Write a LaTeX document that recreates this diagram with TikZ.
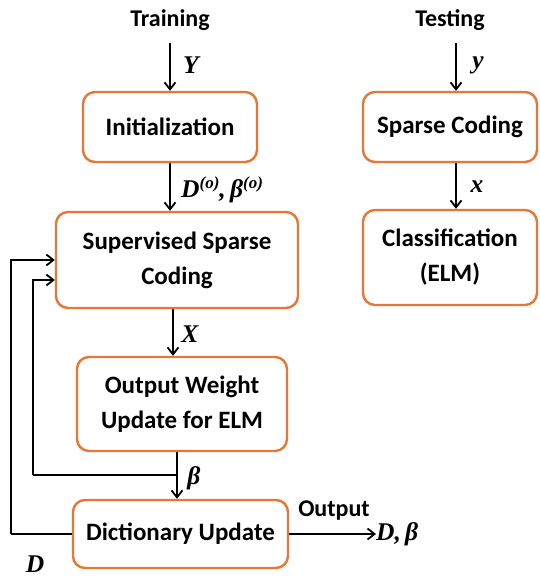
\documentclass[tikz,border=0pt]{standalone}
\usepackage{fontspec}
\setmainfont{Carlito}
\newfontfamily\symfont{Liberation Serif}
\usetikzlibrary{arrows.meta}
\definecolor{boxorange}{RGB}{232,118,52}
\newcommand{\sym}[1]{{\symfont\bfseries\itshape #1}}
\newcommand{\supo}{\raisebox{9pt}{\fontsize{17}{18}\selectfont(\textit{o})}}
\begin{document}
\begin{tikzpicture}[x=1pt,y=-1pt,
  box/.style={draw=boxorange, line width=2.4pt, rounded corners=12pt, align=center,
    font=\fontsize{25}{35}\selectfont\bfseries, inner sep=0pt},
  head/.style={font=\fontsize{24}{28}\selectfont\bfseries, inner sep=0pt},
  lbl/.style={font=\fontsize{25.5}{26}\selectfont, inner sep=0pt},
  arr/.style={line width=1.8pt, -{Straight Barb[length=7pt,width=11pt,line width=1.8pt]}},
  ln/.style={line width=1.8pt}]
\useasboundingbox (0,0) rectangle (540,578);

% training branch
\node[head] (train) at (170,20) {Training};
\node[box, minimum width=174pt, minimum height=70pt] (init) at (170,127) {Initialization};
\node[box, minimum width=242pt, minimum height=96pt] (ssc) at (177,260) {Supervised Sparse\\Coding};
\node[box, minimum width=210pt, minimum height=94pt] (owu) at (182,404) {Output Weight\\Update for ELM};
\node[box, minimum width=215pt, minimum height=68pt] (du) at (180.5,534) {Dictionary Update};

% testing branch
\node[head] (test) at (450,20) {Testing};
\node[box, minimum width=174pt, minimum height=70pt] (sc) at (450,127) {Sparse Coding};
\node[box, minimum width=174pt, minimum height=95pt] (cls) at (450,257.5) {Classification\\(ELM)};

% vertical flow
\coordinate (t1) at (170,43);
\draw[arr] (t1) -- (init.north);
\node[lbl] (lY) at (191,65) {\sym{Y}};
\draw[arr] (init.south) -- (init.south |- ssc.north);
\node[lbl, anchor=west] (lD0) at (181,190) {\sym{D\supo,\,β\supo}};
\draw[arr] (ssc.south -| 173,0) -- (owu.north -| 173,0);
\node[lbl] (lX) at (190,334) {\sym{X}};
\draw[arr] (owu.south -| 177,0) -- (du.north -| 177,0);
\node[lbl] (lB) at (194,478) {\sym{β}};

\coordinate (t2) at (456,43);
\draw[arr] (t2) -- (sc.north -| t2);
\node[lbl] (ly) at (478,65) {\sym{y}};
\draw[arr] (sc.south -| t2) -- (cls.north -| t2);
\node[lbl] (lx) at (477,187) {\sym{x}};

% feedback loops
\coordinate (j1) at (177,475);
\draw[ln] (j1) -- (33,475) coordinate (c1);
\draw[arr] (c1) |- ([yshift=-20pt]ssc.west);
\draw[ln] (du.west) -- (11,534) coordinate (c2);
\draw[arr] (c2) |- (ssc.west);
\node[lbl] (lDD) at (35,564) {\sym{D}};

% output
\node[lbl, anchor=west] (res) at (376,534) {\sym{D,\,β}};
\draw[arr] (du.east) -- (res.west);
\node[font=\fontsize{24}{28}\selectfont\bfseries, inner sep=0pt] (outl) at (334,511) {Output};
\end{tikzpicture}
\end{document}
